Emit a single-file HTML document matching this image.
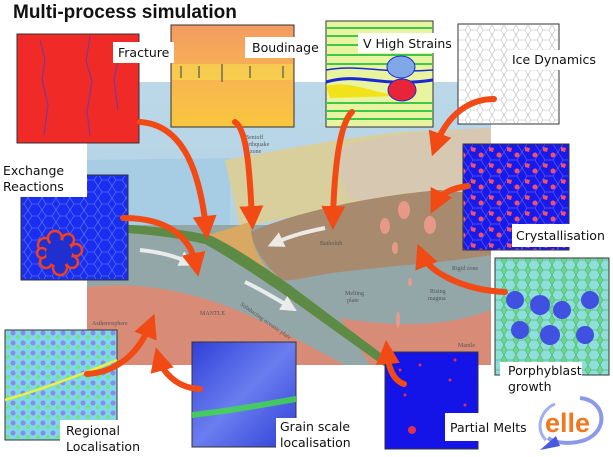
<!DOCTYPE html>
<html><head><meta charset="utf-8"><style>
html,body{margin:0;padding:0;background:#fff;width:613px;height:457px;overflow:hidden}
svg{display:block}
.lb{font-family:"DejaVu Sans","Liberation Sans",sans-serif;font-size:12.5px;fill:#111}
</style></head><body>
<svg width="613" height="457" viewBox="0 0 613 457" xmlns="http://www.w3.org/2000/svg">
<defs>
<marker id="ah" markerWidth="4" markerHeight="4" refX="2" refY="2" orient="auto" markerUnits="strokeWidth">
<path d="M0,0 L4,2 L0,4 z" fill="#f24a14"/></marker>
<marker id="wh" markerWidth="4" markerHeight="4" refX="2" refY="2" orient="auto" markerUnits="strokeWidth">
<path d="M0,0 L4,2 L0,4 z" fill="#f4f4f4"/></marker>
<pattern id="cells" width="14" height="12" patternUnits="userSpaceOnUse">
<path d="M0,6 L4,0 L10,0 L14,6 L10,12 L4,12 Z" fill="none" stroke="#8aa0ff" stroke-width="0.6"/></pattern>
<pattern id="icecells" width="12" height="10" patternUnits="userSpaceOnUse">
<path d="M0,5 L3,0 L9,0 L12,5 L9,10 L3,10 Z" fill="none" stroke="#bbb" stroke-width="0.6"/></pattern>
<pattern id="crys" width="18" height="16" patternUnits="userSpaceOnUse">
<rect width="18" height="16" fill="#1a1ae8"/>
<path d="M0,8 L5,0 L13,0 L18,8 L13,16 L5,16 Z" fill="none" stroke="#7a7aff" stroke-width="0.5"/>
<path d="M3,3 l5,1 l-1,4 l-4,-1z" fill="#f0506a"/><circle cx="13" cy="11" r="2.5" fill="#f0506a"/></pattern>
<pattern id="reg" width="10" height="10" patternUnits="userSpaceOnUse">
<rect width="10" height="10" fill="#7fd9ea"/><circle cx="3" cy="3" r="2.5" fill="#8a8ae8"/><circle cx="8" cy="7" r="2" fill="#7ce07c"/></pattern>
<pattern id="por" width="12" height="10" patternUnits="userSpaceOnUse">
<rect width="12" height="10" fill="#6ad88a"/><path d="M0,5 L3,0 L9,0 L12,5 L9,10 L3,10 Z" fill="#8de0d8" stroke="#4a9a6a" stroke-width="0.5"/></pattern>
<linearGradient id="boud" x1="0" y1="0" x2="0" y2="1"><stop offset="0" stop-color="#f49a62"/><stop offset="0.5" stop-color="#f7b452"/><stop offset="1" stop-color="#f9c63e"/></linearGradient>
<linearGradient id="sky" x1="0" y1="0" x2="0" y2="1"><stop offset="0" stop-color="#bcd8e8"/><stop offset="1" stop-color="#a9cde2"/></linearGradient>
<linearGradient id="grain" x1="0" y1="0" x2="1" y2="1"><stop offset="0" stop-color="#3040d8"/><stop offset="0.5" stop-color="#6a7ef0"/><stop offset="1" stop-color="#2e3ed6"/></linearGradient>
</defs>

<rect x="87" y="82" width="404" height="283" fill="url(#sky)"/>
<path d="M87,160 L230,158 L230,230 L87,226 Z" fill="#a6cde4"/>
<path d="M225,160 C280,150 330,140 400,132 L491,128 L491,200 L300,215 L240,228 Z" fill="#d8cf9c"/>
<path d="M330,150 C380,135 430,130 491,128 L491,195 L420,200 L350,200 Z" fill="#d7c8b2"/>
<rect x="87" y="225" width="404" height="140" fill="#93a7a8"/>
<path d="M87,287 C150,280 210,295 270,325 L345,365 L87,365 Z" fill="#d88c78"/>
<path d="M340,318 C380,325 440,330 491,310 L491,365 L370,365 Z" fill="#d88c78"/>
<path d="M250,232 C300,210 380,195 440,190 L491,195 L491,255 C450,262 400,265 340,272 C310,276 290,282 282,280 C265,265 255,250 250,232 Z" fill="#a88a6e"/>
<path d="M205,236 L250,222 C252,250 262,268 282,280 L270,270 Z" fill="#d9a862"/>
<path d="M87,223 C130,224 180,228 212,236 C240,250 265,268 290,285 L390,360 L384,366 L282,293 C255,275 230,258 205,244 C170,236 130,232 87,231 Z" fill="#5d8a44"/>
<g fill="#f09a8a" opacity="0.9"><ellipse cx="404" cy="210" rx="6" ry="9"/><ellipse cx="430" cy="225" rx="6" ry="9"/><ellipse cx="385" cy="226" rx="5" ry="8"/><ellipse cx="395" cy="248" rx="3" ry="6"/><ellipse cx="410" cy="282" rx="2" ry="4"/><ellipse cx="398" cy="320" rx="2" ry="8"/></g>
<g font-family="Liberation Serif,serif" font-size="6" fill="#555">
<text x="245" y="139">Benioff</text><text x="243" y="146">earthquake</text><text x="250" y="153">zone</text>
<text x="320" y="245">Batholith</text><text x="452" y="270">Rigid zone</text>
<text x="200" y="315">MANTLE</text><text x="92" y="325">Asthenosphere</text>
<text x="345" y="295">Melting</text><text x="347" y="302">plate</text><text x="430" y="293">Rising</text><text x="428" y="300">magma</text><text x="458" y="347">Mantle</text>
<text x="240" y="305" transform="rotate(35 240 305)">Subducting oceanic plate</text></g>
<g stroke="#f4f4f4" stroke-width="4" fill="none" opacity="0.9">
<path d="M140,250 C160,252 175,256 188,262" marker-end="url(#wh)"/>
<path d="M245,282 C262,290 275,298 290,307" marker-end="url(#wh)"/>
<path d="M325,228 C305,232 290,236 275,243" marker-end="url(#wh)"/></g>

<text x="13" y="18" font-family="Liberation Sans,sans-serif" font-weight="bold" font-size="19" fill="#111">Multi-process simulation</text>

<rect x="17" y="34" width="122" height="109" fill="#f02a26" stroke="#333"/>
<g stroke="#6a3aa8" stroke-width="1" fill="none"><path d="M40,40 l5,20 l-3,20 l6,25 l-4,30"/><path d="M90,36 l-4,25 l6,20 l-5,30 l3,25"/><path d="M120,50 l-6,30 l4,30"/></g>
<rect x="171" y="25" width="123" height="102" fill="url(#boud)" stroke="#333"/>
<rect x="172" y="64" width="121" height="16" fill="#f6e04a" opacity="0.55"/>
<g stroke="#555" stroke-width="1.2"><line x1="181" y1="66" x2="181" y2="78"/><line x1="199" y1="66" x2="199" y2="78"/><line x1="222" y1="64" x2="222" y2="82"/><line x1="250" y1="66" x2="250" y2="78"/><line x1="283" y1="66" x2="283" y2="78"/></g>
<rect x="326" y="21" width="107" height="106" fill="#e8f4a0" stroke="#333"/>
<g stroke="#3ec84a" stroke-width="2"><line x1="326" y1="28" x2="433" y2="28"/><line x1="326" y1="36" x2="433" y2="36"/><line x1="326" y1="45" x2="433" y2="45"/><line x1="326" y1="55" x2="433" y2="55"/><line x1="326" y1="64" x2="433" y2="64"/><line x1="326" y1="103" x2="433" y2="103"/><line x1="326" y1="111" x2="433" y2="111"/><line x1="326" y1="119" x2="433" y2="119"/></g>
<path d="M326,86 C350,80 370,92 400,96 L330,98Z" fill="#f2e21a"/>
<path d="M326,82 C360,72 380,88 433,80" stroke="#1a2ad0" stroke-width="3" fill="none"/>
<path d="M326,70 C360,64 380,74 433,70" stroke="#1a2ad0" stroke-width="1.5" fill="none"/>
<ellipse cx="401" cy="67" rx="14" ry="11" fill="#80a8e8" stroke="#1a2ad0"/><ellipse cx="402" cy="90" rx="14" ry="11" fill="#e8243a" stroke="#1a2ad0"/>
<rect x="458" y="24" width="101" height="100" fill="#fff" stroke="#333"/>
<rect x="459" y="25" width="99" height="98" fill="url(#icecells)"/>
<rect x="463" y="144" width="106" height="106" fill="url(#crys)" stroke="#333"/>
<rect x="21" y="175" width="107" height="105" fill="#1a2ef0" stroke="#333"/>
<rect x="22" y="176" width="105" height="103" fill="url(#cells)" opacity="0.7"/>
<g stroke="#f04020" stroke-width="2.5" fill="#2030d0">
<circle cx="45" cy="245" r="7"/><circle cx="55" cy="238" r="7"/><circle cx="68" cy="240" r="6"/><circle cx="76" cy="250" r="6"/><circle cx="72" cy="262" r="6"/><circle cx="60" cy="268" r="7"/><circle cx="46" cy="262" r="6"/><circle cx="42" cy="253" r="5"/></g>
<circle cx="59" cy="253" r="13" fill="#2030d0"/>
<rect x="495" y="258" width="114" height="117" fill="url(#por)" stroke="#333"/>
<g fill="#4050e0"><circle cx="515" cy="300" r="9"/><circle cx="540" cy="305" r="10"/><circle cx="562" cy="310" r="9"/><circle cx="590" cy="300" r="9"/><circle cx="520" cy="330" r="9"/><circle cx="550" cy="335" r="10"/><circle cx="585" cy="335" r="9"/></g>
<rect x="5" y="330" width="112" height="110" fill="url(#reg)" stroke="#333"/>
<path d="M5,400 C40,390 80,375 117,360" stroke="#e8f040" stroke-width="2.5" fill="none"/>
<rect x="192" y="342" width="104" height="105" fill="url(#grain)" stroke="#333"/>
<path d="M192,412 C230,408 260,402 296,396 L296,402 C260,408 230,414 192,418Z" fill="#40e040" opacity="0.8"/>
<rect x="385" y="352" width="93" height="97" fill="#1414e8" stroke="#333"/>
<g fill="#e03050"><circle cx="400" cy="370" r="1.5"/><circle cx="420" cy="365" r="1.5"/><circle cx="455" cy="360" r="1.5"/><circle cx="405" cy="395" r="1.5"/><circle cx="450" cy="380" r="1.5"/><circle cx="412" cy="430" r="4"/><circle cx="465" cy="405" r="1.5"/></g>

<rect x="113" y="42" width="61" height="21" fill="#fff"/><text class="lb" x="118" y="57">Fracture</text>
<rect x="245" y="37" width="73" height="21" fill="#fff"/><text class="lb" x="252" y="52">Boudinage</text>
<rect x="358" y="33" width="97" height="20" fill="#fff"/><text class="lb" x="363" y="48">V High Strains</text>
<rect x="508" y="50" width="90" height="20" fill="#fff"/><text class="lb" x="512" y="64">Ice Dynamics</text>
<rect x="0" y="150" width="87" height="47" fill="#fff"/><text class="lb" x="3" y="175">Exchange</text><text class="lb" x="3" y="191">Reactions</text>
<rect x="512" y="224" width="95" height="23" fill="#fff"/><text class="lb" x="516" y="240">Crystallisation</text>
<rect x="500" y="362" width="82" height="33" fill="#fff"/><text class="lb" x="508" y="375">Porphyblast</text><text class="lb" x="508" y="391">growth</text>
<rect x="60" y="420" width="78" height="37" fill="#fff"/><text class="lb" x="66" y="435">Regional</text><text class="lb" x="66" y="451">Localisation</text>
<rect x="276" y="418" width="76" height="33" fill="#fff"/><text class="lb" x="280" y="431">Grain scale</text><text class="lb" x="280" y="447">localisation</text>
<rect x="445" y="413" width="82" height="28" fill="#fff"/><text class="lb" x="450" y="432">Partial Melts</text>

<g stroke="#f24a14" stroke-width="6" fill="none" stroke-linecap="round">
<path d="M140,122 C185,125 200,175 206,228" marker-end="url(#ah)"/>
<path d="M235,122 C248,130 250,180 252,218" marker-end="url(#ah)"/>
<path d="M352,112 C338,125 334,180 333,218" marker-end="url(#ah)"/>
<path d="M494,99 C465,99 445,120 436,145" marker-end="url(#ah)"/>
<path d="M468,186 C450,188 440,195 436,203" marker-end="url(#ah)"/>
<path d="M123,218 C165,218 190,235 196,265" marker-end="url(#ah)"/>
<path d="M505,292 C460,290 428,270 422,255" marker-end="url(#ah)"/>
<path d="M87,374 C120,372 140,350 150,325" marker-end="url(#ah)"/>
<path d="M200,389 C175,388 162,370 159,359" marker-end="url(#ah)"/>
<path d="M404,384 C392,380 388,365 387,352" marker-end="url(#ah)"/>
</g>

<path d="M580,398 C605,400 610,430 585,440 C570,445 555,443 548,438" stroke="#8a9ae8" stroke-width="4" fill="none"/>
<path d="M555,404 C540,410 535,430 546,440" stroke="#a0b0f0" stroke-width="3" fill="none"/>
<path d="M540,450 L556,436 L560,446 Z" fill="#4a5ae0"/>
<text x="545" y="432" font-family="Liberation Sans,sans-serif" font-weight="bold" font-size="27" fill="#f07820">elle</text>
</svg>
</body></html>
